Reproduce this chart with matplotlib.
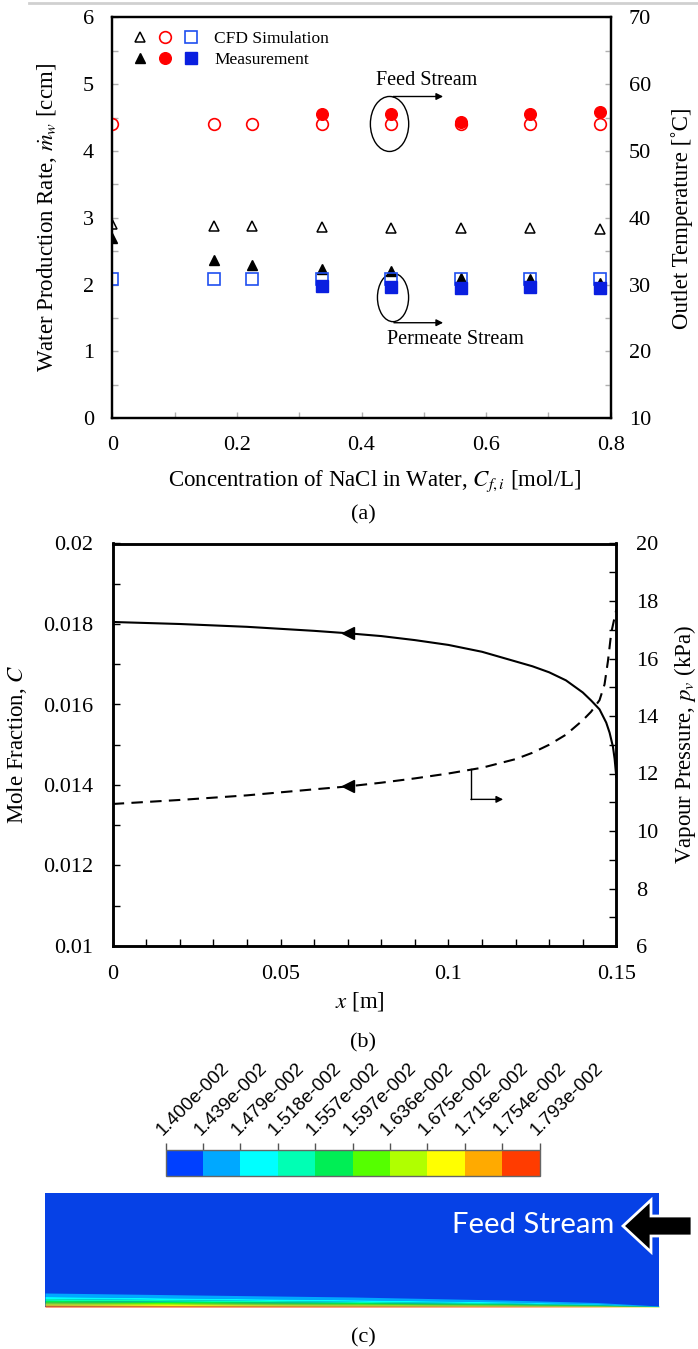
import matplotlib
matplotlib.use('Agg')
import matplotlib.pyplot as plt
from matplotlib.patches import Ellipse, Polygon
from matplotlib.colors import ListedColormap, BoundaryNorm
from matplotlib.ticker import MultipleLocator, FuncFormatter
from matplotlib.legend_handler import HandlerTuple
import matplotlib.colorbar as mcolorbar

plt.rcParams['font.family'] = 'Liberation Serif'
plt.rcParams['mathtext.fontset'] = 'stix'

# ---- (a) water production / outlet temperature vs NaCl concentration
conc = [0, 0.164, 0.224, 0.336, 0.447, 0.559, 0.670, 0.783]
conc_meas = [0.336, 0.447, 0.559, 0.670, 0.783]
rate_cfd = [2.91, 2.87, 2.87, 2.86, 2.85, 2.84, 2.84, 2.83]
rate_meas = [2.70, 2.37, 2.29, 2.24, 2.20, 2.10, 2.09, 2.02]
feed_temp_cfd = [54.0, 54.0, 54.0, 54.0, 54.0, 54.0, 54.0, 54.0]
feed_temp_meas = [55.6, 55.6, 54.4, 55.6, 55.8]
perm_temp_cfd = [30.8, 30.8, 30.8, 30.8, 30.8, 30.8, 30.8, 30.8]
perm_temp_meas = [29.8, 29.7, 29.5, 29.6, 29.5]

# ---- (b) profiles along the membrane
x_c = [0, 0.02, 0.04, 0.06, 0.07, 0.08, 0.09, 0.10, 0.11, 0.12, 0.125,
       0.13, 0.135, 0.14, 0.1425, 0.145, 0.147, 0.148, 0.149, 0.1495, 0.15]
mole_frac = [0.01805, 0.01800, 0.01793, 0.01783, 0.01777, 0.01770, 0.01760,
             0.01748, 0.01731, 0.01707, 0.01695, 0.01680, 0.01660, 0.01630,
             0.01610, 0.01588, 0.01555, 0.01530, 0.01495, 0.01465, 0.01420]
x_pv = [0, 0.02, 0.04, 0.06, 0.07, 0.08, 0.09, 0.10, 0.11, 0.12, 0.125,
        0.13, 0.135, 0.14, 0.1425, 0.145, 0.1465, 0.1475, 0.1485, 0.15]
vap_press = [10.94, 11.08, 11.24, 11.45, 11.55, 11.68, 11.83, 12.0, 12.2,
             12.5, 12.72, 13.0, 13.35, 13.85, 14.15, 14.55, 15.1, 15.9,
             16.9, 17.7]

# ---- (c) mole fraction contour
levels = [0.01400, 0.01439, 0.01479, 0.01518, 0.01557, 0.01597, 0.01636,
          0.01675, 0.01715, 0.01754, 0.01793]
level_colors = ['#0040ff', '#00a8ff', '#00ffff', '#00ffb4', '#00ee55',
                '#55ff00', '#b0ff00', '#ffff00', '#ffaa00', '#ff3c00']
chan_x = [0, 0.0375, 0.075, 0.1125, 0.135, 0.15]
# height (y/H) of each iso-level above the membrane, levels 2..10
iso_heights = [
    [0.123, 0.105, 0.088, 0.061, 0.039, 0.009],
    [0.092, 0.078, 0.064, 0.045, 0.028, 0.006],
    [0.074, 0.063, 0.050, 0.036, 0.022, 0.005],
    [0.058, 0.049, 0.040, 0.029, 0.018, 0.004],
    [0.045, 0.038, 0.031, 0.022, 0.014, 0.003],
    [0.035, 0.029, 0.024, 0.017, 0.010, 0.002],
    [0.026, 0.021, 0.017, 0.012, 0.007, 0.001],
    [0.016, 0.013, 0.010, 0.007, 0.004, 0.0],
    [0.008, 0.006, 0.004, 0.003, 0.001, 0.0],
]

W, H = 698, 1349
fig = plt.figure(figsize=(W / 100, H / 100), dpi=100)

TICK = 16
LAB = 16.5
fmt = FuncFormatter(lambda v, p: '%g' % round(v, 6))

# ================= (a)
ax1 = fig.add_axes([112.3 / W, 1 - 418.3 / H, 498.4 / W, 401 / H])
ax2 = ax1.twinx()
ax1.set_xlim(0, 0.8)
ax1.set_ylim(0, 6)
ax2.set_ylim(10, 70)
ax1.xaxis.set_major_locator(MultipleLocator(0.2))
ax1.xaxis.set_minor_locator(MultipleLocator(0.1))
ax1.yaxis.set_major_locator(MultipleLocator(1))
ax1.yaxis.set_minor_locator(MultipleLocator(0.5))
ax2.yaxis.set_major_locator(MultipleLocator(10))
ax2.yaxis.set_minor_locator(MultipleLocator(5))
ax1.xaxis.set_major_formatter(fmt)
for a in (ax1, ax2):
    a.tick_params(which='both', direction='in', color='#b0b0b0', length=4,
                  width=1, pad=13, labelsize=TICK)
    for s in a.spines.values():
        s.set_linewidth(1.6)

ms = 8.4
h_tri_o, = ax1.plot(conc, rate_cfd, ls='none', marker='^', ms=7.5,
                    mfc='none', mec='k', mew=1.1)
h_circ_o, = ax2.plot(conc, feed_temp_cfd, ls='none', marker='o', ms=ms,
                     mfc='none', mec='red', mew=1.2)
h_sq_o, = ax2.plot(conc, perm_temp_cfd, ls='none', marker='s', ms=ms,
                   mfc='none', mec='#1f4ff0', mew=1.2)
h_tri_f, = ax1.plot(conc, rate_meas, ls='none', marker='^', ms=7.5,
                    color='k')
h_circ_f, = ax2.plot(conc_meas, feed_temp_meas, ls='none', marker='o', ms=ms,
                     color='red')
h_sq_f, = ax2.plot(conc_meas, perm_temp_meas, ls='none', marker='s', ms=ms,
                   color='#0a1fe0')

ax2.legend([(h_tri_o, h_circ_o, h_sq_o), (h_tri_f, h_circ_f, h_sq_f)],
           ['CFD Simulation', 'Measurement'],
           handler_map={tuple: HandlerTuple(ndivide=None, pad=0)},
           loc='upper left', bbox_to_anchor=(0.03, 0.965), frameon=False,
           borderaxespad=0, borderpad=0, handlelength=4.4,
           handletextpad=0.6, labelspacing=0.25, fontsize=12.5)

ax1.add_patch(Ellipse((0.445, 4.404), 0.0615, 0.823, fill=False, lw=1,
                      color='k'))
ax1.annotate('', xy=(0.531, 4.815), xytext=(0.4506, 4.815),
             arrowprops=dict(arrowstyle='-|>', color='k', lw=1,
                             mutation_scale=10, shrinkA=0, shrinkB=0))
ax1.text(0.424, 5.047, 'Feed Stream', fontsize=14.5, va='center')
ax1.add_patch(Ellipse((0.4506, 1.808), 0.050, 0.724, fill=False, lw=1,
                      color='k'))
ax1.annotate('', xy=(0.531, 1.43), xytext=(0.452, 1.43),
             arrowprops=dict(arrowstyle='-|>', color='k', lw=1,
                             mutation_scale=10, shrinkA=0, shrinkB=0))
ax1.text(0.441, 1.172, 'Permeate Stream', fontsize=14.5, va='center')

ax1.set_xlabel(r'Concentration of NaCl in Water, $C_{f,i}$ [mol/L]',
               fontsize=LAB, va='center')
ax1.xaxis.set_label_coords(0.526, -0.158)
ax1.set_ylabel(r'Water Production Rate, $\dot{m}_w$ [ccm]', fontsize=LAB,
               va='center')
ax1.yaxis.set_label_coords(-0.131, 0.5)
ax2.set_ylabel('Outlet Temperature [˚C]', fontsize=LAB, va='center',
               rotation=90)
ax2.yaxis.set_label_coords(1.143, 0.5)
fig.text(0.52, 1 - 515 / H, '(a)', fontsize=16, ha='center', va='center')

# ================= (b)
bx1 = fig.add_axes([112.7 / W, 1 - 946 / H, 503.6 / W, 402.5 / H])
bx2 = bx1.twinx()
bx1.set_xlim(0, 0.15)
bx1.set_ylim(0.01, 0.02)
bx2.set_ylim(6, 20)
bx1.xaxis.set_major_locator(MultipleLocator(0.05))
bx1.xaxis.set_minor_locator(MultipleLocator(0.01))
bx1.yaxis.set_major_locator(MultipleLocator(0.002))
bx1.yaxis.set_minor_locator(MultipleLocator(0.001))
bx2.yaxis.set_major_locator(MultipleLocator(2))
bx2.yaxis.set_minor_locator(MultipleLocator(1))
bx1.xaxis.set_major_formatter(fmt)
bx1.yaxis.set_major_formatter(fmt)
for a in (bx1, bx2):
    a.tick_params(which='both', direction='in', color='k', length=5,
                  width=1, pad=14, labelsize=TICK)
    for s in a.spines.values():
        s.set_linewidth(1.8)

bx1.plot(x_c, mole_frac, color='k', lw=1.5, marker='<', ms=9,
         markevery=[4])
bx2.plot(x_pv, vap_press, color='k', lw=1.5, ls=(0, (5.5, 3.5)), marker='<',
         ms=9, markevery=[4])
bx2.plot([0.1067, 0.1067], [12.15, 11.1], color='k', lw=1)
bx2.annotate('', xy=(0.1163, 11.1), xytext=(0.1067, 11.1),
             arrowprops=dict(arrowstyle='-|>', color='k', lw=1,
                             mutation_scale=10, shrinkA=0, shrinkB=0))

bx1.set_xlabel(r'$x$ [m]', fontsize=LAB, va='center')
bx1.xaxis.set_label_coords(0.49, -0.138)
bx1.set_ylabel(r'Mole Fraction, $C$', fontsize=LAB, va='center')
bx1.yaxis.set_label_coords(-0.19, 0.5)
bx2.set_ylabel(r'Vapour Pressure, $p_v$ (kPa)', fontsize=LAB, va='center',
               rotation=90)
bx2.yaxis.set_label_coords(1.136, 0.5)
fig.text(0.52, 1 - 1043 / H, '(b)', fontsize=16, ha='center', va='center')

# ================= (c)
cax = fig.add_axes([165.6 / W, 1 - 1176 / H, 373.9 / W, 26 / H])
cmap = ListedColormap(level_colors)
norm = BoundaryNorm(levels, cmap.N)
cb = mcolorbar.ColorbarBase(cax, cmap=cmap, norm=norm,
                            orientation='horizontal', ticks=levels)
cb.outline.set_edgecolor('#666666')
cb.outline.set_linewidth(1)
cax.xaxis.set_ticks_position('top')
cax.tick_params(axis='x', direction='out', length=5, width=1,
                color='#555555', pad=3)
cax.set_xticklabels(['%.3fe-002' % (v * 100) for v in levels],
                    rotation=45, ha='left', va='bottom',
                    rotation_mode='anchor', fontsize=13.5,
                    family='Liberation Sans')

ax_c = fig.add_axes([45 / W, 1 - 1307 / H, 614 / W, 114 / H])
ax_c.set_xlim(0, 0.15)
ax_c.set_ylim(0, 1)
ax_c.set_facecolor('#0641e6')
ax_c.set_xticks([])
ax_c.set_yticks([])
for s in ax_c.spines.values():
    s.set_visible(False)
lower_list = iso_heights[1:] + [[0] * len(chan_x)]
for k, (top, bot) in enumerate(zip(iso_heights, lower_list)):
    ax_c.fill_between(chan_x, bot, top, color=level_colors[k + 1], lw=0)
ax_c.text(0.927, 0.72, 'Feed Stream', transform=ax_c.transAxes,
          color='white', fontsize=21, family='Lato', ha='right',
          va='center')
fig.text(0.52, 1 - 1338 / H, '(c)', fontsize=16, ha='center', va='center')

# overlay for page decorations (pixel units)
ov = fig.add_axes([0, 0, 1, 1], zorder=10)
ov.set_xlim(0, W)
ov.set_ylim(H, 0)
ov.axis('off')
ov.plot([29, W], [2.7, 2.7], color='#d0d0d0', lw=2)
ov.add_patch(Polygon([(623, 1226), (651, 1200), (651, 1216), (692, 1216),
                      (692, 1236), (651, 1236), (651, 1252)],
                     closed=True, fc='black', ec='white', lw=2))

fig.savefig('out.png', dpi=100)
